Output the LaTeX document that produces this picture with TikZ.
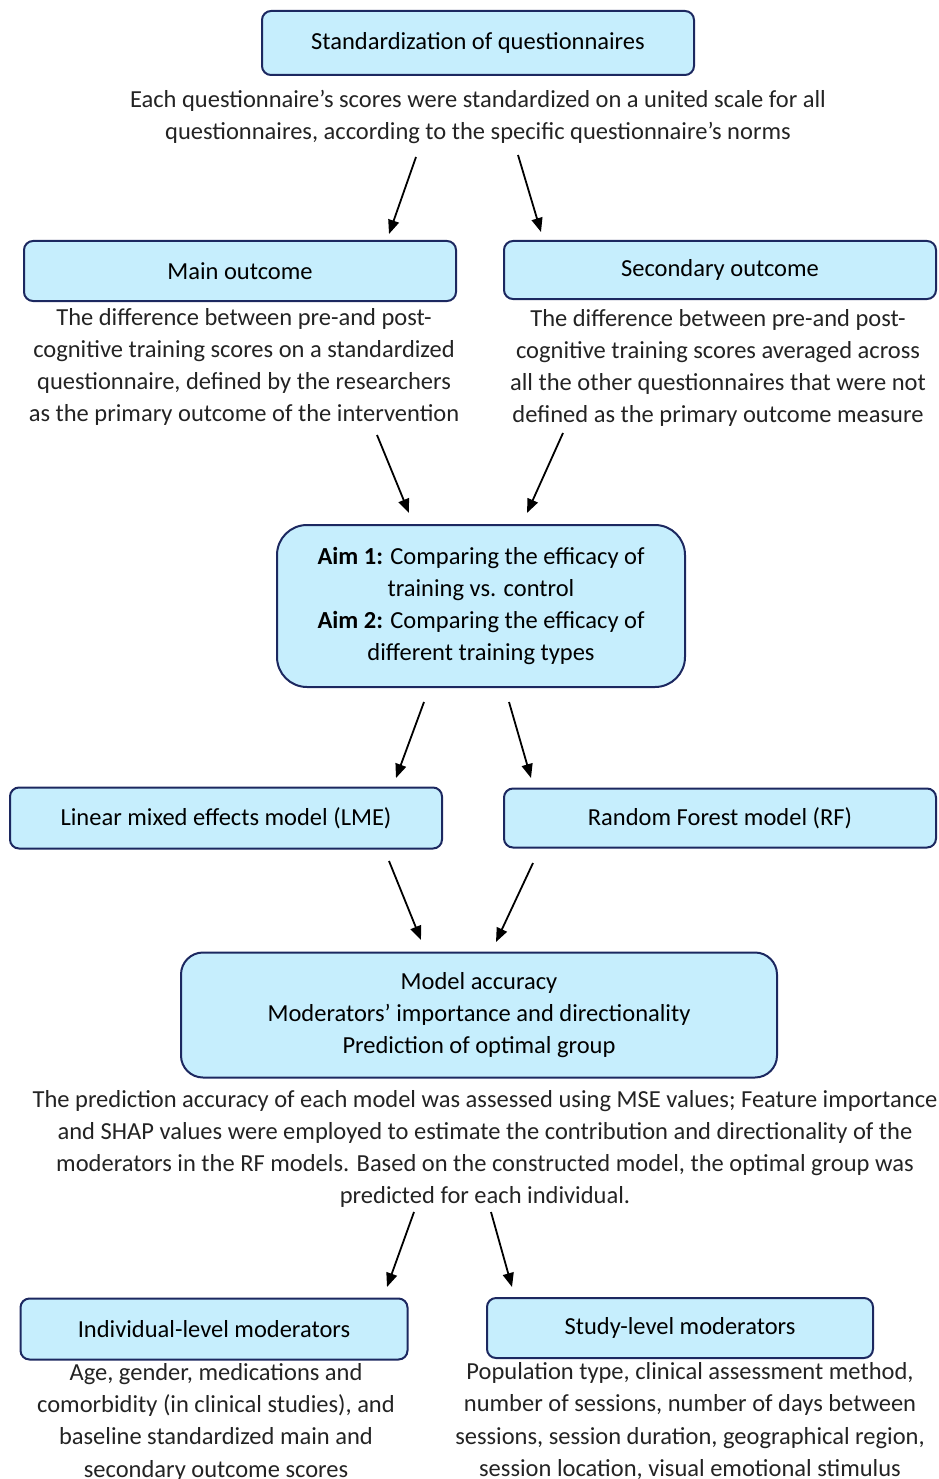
\documentclass[tikz,border=0pt]{standalone}
\usepackage{fontspec}
\setmainfont{Carlito}
\usetikzlibrary{arrows.meta}
\definecolor{boxfill}{RGB}{198,238,253}
\definecolor{boxline}{RGB}{28,40,96}
\definecolor{txt}{RGB}{35,35,35}
\newcommand\fsz{\fontsize{24.5}{32.3}\selectfont}
\tikzset{
 box/.style={draw=boxline, fill=boxfill, line width=2pt, rounded corners=9pt, align=center, font=\fsz, text=black, inner sep=0pt},
 desc/.style={align=center, font=\fsz, text=txt, inner sep=0pt},
 arr/.style={line width=1.8pt, -{Triangle[length=14pt,width=11pt]}}
}
\begin{document}
\begin{tikzpicture}[x=1pt,y=-1pt]
\useasboundingbox (0,0) rectangle (938,1479);
\node[box, minimum width=432pt, minimum height=64pt] (std) at (478,43) {Standardization of questionnaires};
\node[desc] (stdt) at (478,117) {Each questionnaire’s scores were standardized on a united scale for all\\questionnaires, according to the specific questionnaire’s norms};
\node[box, minimum width=432pt, minimum height=60pt] (main) at (240,271) {Main outcome};
\node[desc] (maint) at (244,367) {The difference between pre-and post-\\cognitive training scores on a standardized\\questionnaire, defined by the researchers\\as the primary outcome of the intervention};
\node[box, minimum width=432pt, minimum height=58pt] (sec) at (720,270) {Secondary outcome};
\node[desc] (sect) at (718,368) {The difference between pre-and post-\\cognitive training scores averaged across\\all the other questionnaires that were not\\defined as the primary outcome measure};
\node[box, rounded corners=30pt, minimum width=408pt, minimum height=162pt] (aim) at (481,606) {\textbf{Aim 1:} Comparing the efficacy of\\training vs. control\\\textbf{Aim 2:} Comparing the efficacy of\\different training types};
\node[box, minimum width=432pt, minimum height=61pt] (lme) at (226,818) {Linear mixed effects model (LME)};
\node[box, minimum width=432pt, minimum height=59pt] (rf) at (720,818) {Random Forest model (RF)};
\node[box, rounded corners=22pt, minimum width=596pt, minimum height=125pt] (acc) at (479,1015) {Model accuracy\\Moderators’ importance and directionality\\Prediction of optimal group};
\node[desc] (acct) at (485,1149) {The prediction accuracy of each model was assessed using MSE values; Feature importance\\and SHAP values were employed to estimate the contribution and directionality of the\\moderators in the RF models. Based on the constructed model, the optimal group was\\predicted for each individual.};
\node[box, minimum width=387pt, minimum height=61pt] (ind) at (214,1329) {Individual-level moderators};
\node[desc] (indt) at (216,1422) {Age, gender, medications and\\comorbidity (in clinical studies), and\\baseline standardized main and\\secondary outcome scores};
\node[box, minimum width=386pt, minimum height=60pt] (stu) at (680,1328) {Study-level moderators};
\node[desc] (stut) at (690,1421) {Population type, clinical assessment method,\\number of sessions, number of days between\\sessions, session duration, geographical region,\\session location, visual emotional stimulus};
% arrow end points
\coordinate (a1s) at (416,157); \coordinate (a1e) at (389,234);
\coordinate (a2s) at (518,155); \coordinate (a2e) at (541,232);
\coordinate (a3s) at (377,435); \coordinate (a3e) at (409,513);
\coordinate (a4s) at (563,433); \coordinate (a4e) at (527,513);
\coordinate (a5s) at (424,702); \coordinate (a5e) at (396,778);
\coordinate (a6s) at (509,702); \coordinate (a6e) at (531,778);
\coordinate (a7s) at (389,861); \coordinate (a7e) at (421,940);
\coordinate (a8s) at (533,863); \coordinate (a8e) at (496,942);
\coordinate (a9s) at (414,1212); \coordinate (a9e) at (387,1287);
\coordinate (a10s) at (491,1212); \coordinate (a10e) at (512,1287);
\foreach \i in {1,...,10} {\draw[arr] (a\i s) -- (a\i e);}
\end{tikzpicture}
\end{document}
